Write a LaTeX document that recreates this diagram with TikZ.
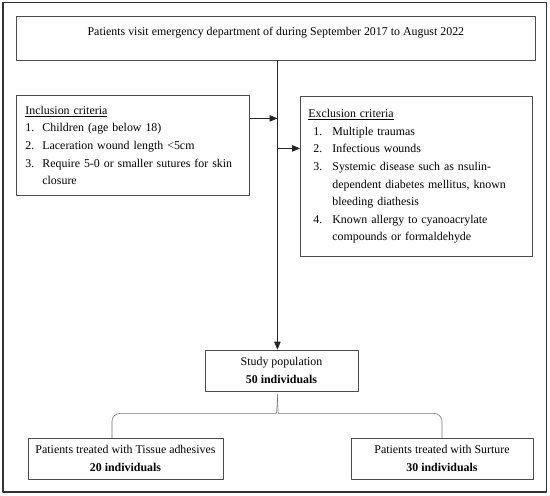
\documentclass[tikz,border=0pt]{standalone}
\usepackage{fontspec}
\setmainfont{Liberation Serif}
\usetikzlibrary{arrows}
\newcommand{\itm}[3][17pt]{\makebox[#1][l]{#2}#3}

\begin{document}
\begin{tikzpicture}[line cap=round,line join=round,>=triangle 45,x=1pt,y=1pt,
  box/.style={draw=black!70,line width=0.8pt,inner sep=0pt,font=\fontsize{11.9}{17.6}\selectfont},
  lst/.style={box,anchor=north west,align=left,inner xsep=9pt},
  conn/.style={draw=black!85,line width=0.8pt},
  brc/.style={draw=black!55,line width=0.6pt,rounded corners=8pt}]
\useasboundingbox (0,0) rectangle (550,-496);
\draw[black!80,line width=1.6pt] (3,-2.5) rectangle (546.5,-492);
% boxes
\node[box,anchor=north west,minimum width=519pt,text height=20pt,text depth=24.5pt] (visit) at (16,-15.5)
  {Patients visit emergency department of during September 2017 to August 2022};
\node[lst,minimum height=100pt,text width=215pt] (incl) at (16,-95)
  {\underline{Inclusion criteria}\\
   \itm{1.}{Children (age below 18)}\\
   \itm{2.}{Laceration wound length <5cm}\\
   \itm{3.}{Require 5-0 or smaller sutures for skin}\\
   \hspace*{17pt}closure};
\node[lst,minimum height=160pt,text width=216pt,inner xsep=8pt] (excl) at (300,-96)
  {\underline{Exclusion criteria}\\
   \hspace*{5pt}\itm[19pt]{1.}{Multiple traumas}\\
   \hspace*{5pt}\itm[19pt]{2.}{Infectious wounds}\\
   \hspace*{5pt}\itm[19pt]{3.}{Systemic disease such as nsulin-}\\
   \hspace*{24pt}dependent diabetes mellitus, known\\
   \hspace*{24pt}bleeding diathesis\\
   \hspace*{5pt}\itm[19pt]{4.}{Known allergy to cyanoacrylate}\\
   \hspace*{24pt}compounds or formaldehyde};
\node[box,minimum width=153pt,minimum height=41pt,align=center] (study) at (281.5,-370.5)
  {Study population\\\textbf{50 individuals}};
\node[box,minimum width=195pt,minimum height=41pt,align=center] (tadh) at (125.5,-458.5)
  {Patients treated with Tissue adhesives\\\textbf{20 individuals}};
\node[box,minimum width=182pt,minimum height=41pt,align=center] (sut) at (442,-458.5)
  {Patients treated with Surture\\\textbf{30 individuals}};
% connectors
\coordinate (spine) at ([xshift=1.5pt]visit.south);
\draw[conn,->] (spine) -- (spine |- study.north);
\coordinate (inA) at ([yshift=27pt]incl.east);
\draw[conn,->] (inA) -- (inA -| spine);
\coordinate (exA) at ([yshift=28pt]excl.west);
\draw[conn,->] (exA -| spine) -- (exA);
% brace
\path (spine |- study.south) ++(0,-3) coordinate (tip);
\coordinate (bl) at ([xshift=-13.5pt]tadh.north);
\draw[brc] (tip) to[out=-90,in=0] ++(-9,-19) -| (bl);
\draw[brc] (tip) to[out=-90,in=180] ++(9,-19) -| (sut.north);
\end{tikzpicture}
\end{document}
